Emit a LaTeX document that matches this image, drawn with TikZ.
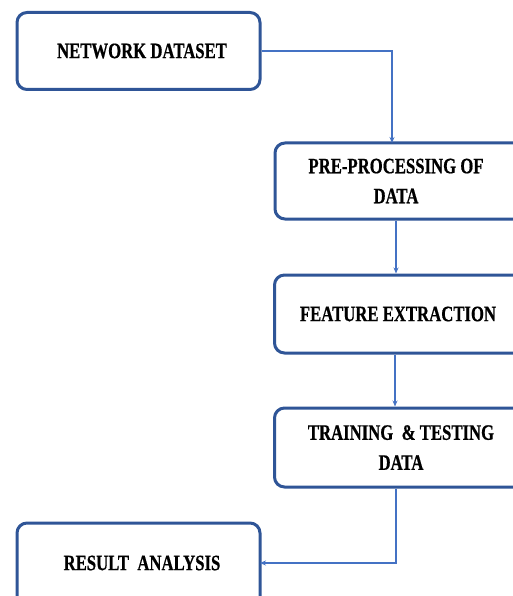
\documentclass[tikz,border=0pt]{standalone}
\usepackage{fontspec}
\setmainfont{Liberation Serif}
\newfontfamily\boxfont[FakeStretch=0.76,FakeBold=0.6]{Liberation Serif}
\usetikzlibrary{arrows.meta}
\definecolor{boxblue}{RGB}{47,85,151}
\definecolor{arrblue}{RGB}{68,114,196}
\tikzset{
  stepbox/.style={draw=boxblue, line width=3pt, rounded corners=10pt, fill=white, inner sep=0pt},
  lbl/.style={align=center, font=\boxfont\bfseries\fontsize{22}{30}\selectfont, inner sep=0pt},
  arr/.style={draw=arrblue, line width=1.3pt, -{Stealth[length=6pt,width=5pt]}}
}
\begin{document}
\begin{tikzpicture}[x=1pt,y=1pt]
\useasboundingbox (0,0) rectangle (513,-596);
\node[stepbox, minimum width=243pt, minimum height=77pt] (b1) at (138.5,-51) {};
\node[stepbox, minimum width=270pt, minimum height=76pt] (b2) at (410,-181) {};
\node[stepbox, minimum width=270pt, minimum height=78pt] (b3) at (409.5,-314) {};
\node[stepbox, minimum width=270pt, minimum height=79pt] (b4) at (409.5,-447.5) {};
\node[stepbox, minimum width=243pt, minimum height=90pt] (b5) at (138.5,-568) {};
\node[lbl] (t1) at (142,-51) {NETWORK DATASET};
\node[lbl] (t2) at (396,-181) {PRE-PROCESSING OF\\DATA};
\node[lbl] (t3) at (398,-314) {FEATURE EXTRACTION};
\node[lbl] (t4) at (401,-447.5) {TRAINING\ \ \& TESTING\\DATA};
\node[lbl] (t5) at (142,-563) {RESULT\ \ ANALYSIS};
\coordinate (c2) at (392,-143);
\coordinate (c5) at (260,-563);
\draw[arr] (b1.east) -| (c2);
\draw[arr] (b2.south -| 396,0) -- (b3.north -| 396,0);
\draw[arr] (b3.south -| 395,0) -- (b4.north -| 395,0);
\draw[arr] (b4.south -| 396,0) |- (c5);
\end{tikzpicture}
\end{document}
